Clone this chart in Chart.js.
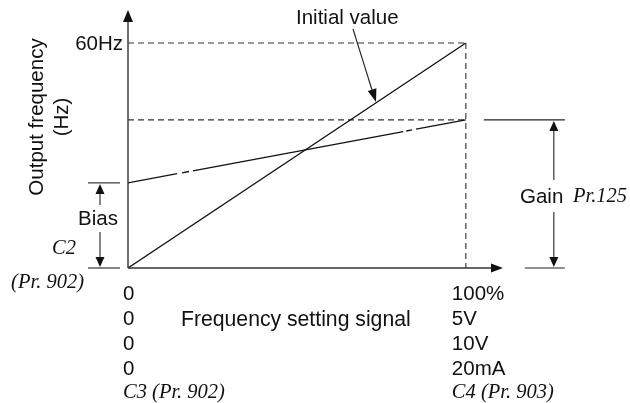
<!DOCTYPE html>
<html>
<head>
<meta charset="utf-8">
<script src="https://cdn.jsdelivr.net/npm/chart.js@4.4.0/dist/chart.umd.min.js"></script>
<style>
  html, body { margin: 0; padding: 0; background: #fff; }
  #wrap { width: 630px; height: 403px; position: relative; }
</style>
</head>
<body>
<div id="wrap"><canvas id="freqChart"></canvas></div>
<script>
// Chart data
const signalPct = [0, 100];            // frequency setting signal (%)
const initialHz = [0, 60];             // initial value line
const adjustedHz = [22.7, 39.5];       // bias -> gain line
const maxHz = 60;
const xMax = 111;                      // axis arrow end
const yMax = 68.8;
const minLabels = ['0', '0', '0', '0'];
const maxLabels = ['100%', '5V', '10V', '20mA'];

const SANS = '"Liberation Sans", Arial, sans-serif';
const SERIF_IT = 'italic 20.5px "Liberation Serif", "Times New Roman", serif';

function pts(xs, ys) { return xs.map((x, i) => ({ x: x, y: ys[i] })); }

function arrowHead(ctx, x, y, dir, len, half) {
  // dir = angle the arrow points to
  ctx.save();
  ctx.translate(x, y);
  ctx.rotate(dir);
  ctx.beginPath();
  ctx.moveTo(0, 0);
  ctx.lineTo(-len, -half);
  ctx.lineTo(-len, half);
  ctx.closePath();
  ctx.fill();
  ctx.restore();
}

function line(ctx, x1, y1, x2, y2) {
  ctx.beginPath();
  ctx.moveTo(x1, y1);
  ctx.lineTo(x2, y2);
  ctx.stroke();
}

// Axes, arrows and labels
const diagramPlugin = {
  id: 'diagram',
  afterDatasetsDraw(chart) {
    const ctx = chart.ctx;
    const xs = chart.scales.x, ys = chart.scales.y;
    const x0 = xs.getPixelForValue(0), x100 = xs.getPixelForValue(100);
    const xEnd = xs.getPixelForValue(xMax);
    const y0 = ys.getPixelForValue(0), yTop = ys.getPixelForValue(yMax);
    const y60 = ys.getPixelForValue(maxHz);
    const yBias = ys.getPixelForValue(adjustedHz[0]);
    const yGain = ys.getPixelForValue(adjustedHz[1]);

    ctx.save();
    ctx.strokeStyle = '#333';
    ctx.fillStyle = '#111';
    ctx.lineWidth = 1.4;
    // axes
    line(ctx, x0, y0, xEnd - 8, y0);
    line(ctx, x0, y0, x0, yTop + 8);
    arrowHead(ctx, xEnd, y0, 0, 12, 4.5);
    arrowHead(ctx, x0, yTop, -Math.PI / 2, 12, 5);

    ctx.lineWidth = 1.1;
    ctx.strokeStyle = '#222';
    // bias marker
    const bx = x0 - 28;
    line(ctx, x0 - 40, yBias, x0 - 8, yBias);
    line(ctx, x0 - 40, y0, x0 - 8, y0);
    line(ctx, bx, yBias + 8, bx, yBias + 22);
    arrowHead(ctx, bx, yBias + 1, -Math.PI / 2, 10, 4.5);
    line(ctx, bx, y0 - 36, bx, y0 - 9);
    arrowHead(ctx, bx, y0 - 1, Math.PI / 2, 10, 4.5);

    // gain marker
    const gx = x100 + 88;
    line(ctx, x100 + 18, yGain, x100 + 99, yGain);
    line(ctx, x100 + 59, y0, x100 + 99, y0);
    line(ctx, gx, yGain + 8, gx, yGain + 60);
    arrowHead(ctx, gx, yGain + 1, -Math.PI / 2, 10, 4.5);
    line(ctx, gx, yGain + 92, gx, y0 - 9);
    arrowHead(ctx, gx, y0 - 1, Math.PI / 2, 10, 4.5);

    // initial value pointer
    line(ctx, 353, 29, 372, 90);
    const ang = Math.atan2(102 - 29, 376 - 353);
    arrowHead(ctx, 376, 102, ang, 13, 4.5);

    // texts
    ctx.fillStyle = '#111';
    ctx.textBaseline = 'middle';
    ctx.font = '20.5px ' + SANS;
    ctx.textAlign = 'left';
    ctx.fillText('Initial value', 296, 18);
    ctx.textAlign = 'right';
    ctx.fillText('60Hz', x0 - 5, y60 + 1);
    ctx.textAlign = 'center';
    ctx.fillText('Bias', bx - 2, 219);
    ctx.textAlign = 'left';
    ctx.fillText('Gain', 520, 197);
    ctx.font = '21.2px ' + SANS;
    ctx.fillText('Frequency setting signal', 181, 320);
    ctx.font = '20.5px ' + SANS;

    const rowY = [294, 319, 344, 369];
    minLabels.forEach((t, i) => ctx.fillText(t, x0 - 5, rowY[i]));
    maxLabels.forEach((t, i) => ctx.fillText(t, x100 - 14, rowY[i]));

    ctx.font = SERIF_IT;
    ctx.fillText('Pr.125', 573, 197);
    ctx.fillText('C3 (Pr. 902)', x0 - 5, 393);
    ctx.fillText('C4 (Pr. 903)', x100 - 14, 393);
    ctx.textAlign = 'right';
    ctx.fillText('C2', 76, 249);
    ctx.fillText('(Pr. 902)', 84, 283);

    // y axis title
    ctx.save();
    ctx.translate(37, 117);
    ctx.rotate(-Math.PI / 2);
    ctx.font = '20.5px ' + SANS;
    ctx.textAlign = 'center';
    ctx.fillText('Output frequency', 0, 0);
    ctx.fillText('(Hz)', 0, 25);
    ctx.restore();

    ctx.restore();
  }
};

const guide = { borderColor: '#333', borderWidth: 1.1, borderDash: [6, 4] };

new Chart(document.getElementById('freqChart'), {
  type: 'scatter',
  data: {
    datasets: [
      {
        label: 'Initial value',
        data: pts(signalPct, initialHz),
        showLine: true, pointRadius: 0,
        borderColor: '#111', borderWidth: 1.3
      },
      {
        label: 'Bias / Gain',
        data: pts(signalPct, adjustedHz),
        showLine: true, pointRadius: 0,
        borderColor: '#111', borderWidth: 1.3,
        borderDash: [50, 5, 7, 4, 214, 3, 6, 4, 100]
      },
      Object.assign({ data: pts([0, 100], [maxHz, maxHz]), showLine: true, pointRadius: 0 }, guide),
      Object.assign({ data: pts([100, 100], [maxHz, 0]), showLine: true, pointRadius: 0 }, guide),
      Object.assign({ data: pts([0, 100], [adjustedHz[1], adjustedHz[1]]), showLine: true, pointRadius: 0 }, guide)
    ]
  },
  options: {
    responsive: true,
    maintainAspectRatio: false,
    animation: false,
    layout: { padding: { left: 128, right: 127, top: 10, bottom: 135 } },
    plugins: { legend: { display: false }, tooltip: { enabled: false } },
    scales: {
      x: { type: 'linear', min: 0, max: xMax, display: false },
      y: { type: 'linear', min: 0, max: yMax, display: false }
    }
  },
  plugins: [diagramPlugin]
});
</script>
</body>
</html>
